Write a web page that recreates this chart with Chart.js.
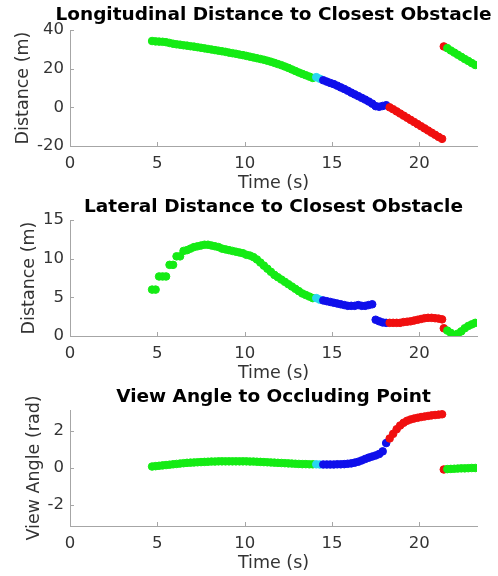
<!DOCTYPE html>
<html lang="en">
<head>
  <meta charset="UTF-8" />
  <title>Closest Obstacle</title>
  <script src="https://cdn.jsdelivr.net/npm/chart.js"></script>
  <style>
    body {
      margin: 0;
      padding: 0;
      background-color: #fff;
      width: 498px;
      height: 576px;
      position: relative;
      overflow: hidden;
    }

    canvas {
      position: absolute;
      left: 0;
    }
  </style>
</head>
<body>
  <canvas id="lonChart" width="498" height="192" style="top:0px"></canvas>
  <canvas id="latChart" width="498" height="192" style="top:190px"></canvas>
  <canvas id="angChart" width="498" height="192" style="top:380px"></canvas>

  <script>
    // sample times (s)
    const time = [
      4.7, 4.9, 5.1, 5.3, 5.5, 5.7, 5.9, 6.1, 6.3, 6.5,
      6.7, 6.9, 7.1, 7.3, 7.5, 7.7, 7.9, 8.1, 8.3, 8.5,
      8.7, 8.9, 9.1, 9.3, 9.5, 9.7, 9.9, 10.1, 10.3, 10.5,
      10.7, 10.9, 11.1, 11.3, 11.5, 11.7, 11.9, 12.1, 12.3, 12.5,
      12.7, 12.9, 13.1, 13.3, 13.5, 13.7, 13.9, 14.1, 14.3, 14.5,
      14.7, 14.9, 15.1, 15.3, 15.5, 15.7, 15.9, 16.1, 16.3, 16.5,
      16.7, 16.9, 17.1, 17.3, 17.5, 17.7, 17.9, 18.1, 18.3, 18.5,
      18.7, 18.9, 19.1, 19.3, 19.5, 19.7, 19.9, 20.1, 20.3, 20.5,
      20.7, 20.9, 21.1, 21.3, 21.4, 21.6, 21.8, 22.0, 22.2, 22.4,
      22.6, 22.8, 23.0, 23.2
    ];

    // state of each sample: g = green, c = cyan, b = blue, r = red
    const state = [
      'g','g','g','g','g','g','g','g','g','g',
      'g','g','g','g','g','g','g','g','g','g',
      'g','g','g','g','g','g','g','g','g','g',
      'g','g','g','g','g','g','g','g','g','g',
      'g','g','g','g','g','g','g','c','c','b',
      'b','b','b','b','b','b','b','b','b','b',
      'b','b','b','b','b','b','b','b','r','r',
      'r','r','r','r','r','r','r','r','r','r',
      'r','r','r','r','r','g','g','g','g','g',
      'g','g','g','g'
    ];

    const longitudinal = [
      34.3, 34.1, 34.0, 33.9, 33.7, 33.3, 32.9, 32.6, 32.4, 32.1,
      31.9, 31.6, 31.4, 31.1, 30.8, 30.5, 30.2, 29.9, 29.6, 29.3,
      29.0, 28.7, 28.3, 28.0, 27.7, 27.3, 27.0, 26.6, 26.2, 25.8,
      25.4, 25.0, 24.6, 24.1, 23.6, 23.0, 22.4, 21.8, 21.1, 20.4,
      19.6, 18.8, 18.0, 17.3, 16.6, 15.9, 15.2, 15.6, 14.8, 14.0,
      13.3, 12.6, 12.0, 11.2, 10.3, 9.5, 8.6, 7.6, 6.7, 5.8,
      4.9, 4.0, 3.0, 1.9, 0.6, 0.3, 0.7, 1.1, 0.0, -1.0,
      -2.1, -3.2, -4.3, -5.4, -6.5, -7.6, -8.7, -9.8, -10.9, -12.0,
      -13.1, -14.2, -15.3, -16.3, 31.5, 30.6, 29.4, 28.3, 27.2, 26.1,
      25.0, 24.0, 22.9, 21.9
    ];

    const lateral = [
      6.0, 6.0, 7.7, 7.7, 7.7, 9.2, 9.2, 10.3, 10.3, 11.0,
      11.1, 11.3, 11.5, 11.6, 11.7, 11.8, 11.8, 11.7, 11.6, 11.5,
      11.3, 11.2, 11.1, 11.0, 10.9, 10.8, 10.7, 10.5, 10.4, 10.2,
      9.9, 9.5, 9.1, 8.7, 8.3, 7.9, 7.6, 7.3, 7.0, 6.7,
      6.4, 6.1, 5.8, 5.5, 5.3, 5.1, 4.9, 4.9, 4.7, 4.6,
      4.5, 4.4, 4.3, 4.2, 4.1, 4.0, 3.9, 3.9, 3.9, 4.0,
      3.9, 3.9, 4.0, 4.1, 2.1, 1.9, 1.75, 1.7, 1.7, 1.7,
      1.7, 1.7, 1.8, 1.85, 1.9, 2.0, 2.1, 2.2, 2.3, 2.35,
      2.35, 2.3, 2.25, 2.15, 1.0, 0.7, 0.4, 0.1, 0.3, 0.6,
      1.0, 1.3, 1.5, 1.7
    ];

    const viewAngle = [
      0.08, 0.10, 0.12, 0.14, 0.16, 0.18, 0.20, 0.22, 0.24, 0.26,
      0.28, 0.29, 0.30, 0.31, 0.32, 0.33, 0.34, 0.35, 0.35, 0.36,
      0.36, 0.36, 0.36, 0.36, 0.36, 0.36, 0.36, 0.36, 0.35, 0.35,
      0.34, 0.33, 0.32, 0.31, 0.30, 0.29, 0.28, 0.27, 0.26, 0.25,
      0.24, 0.23, 0.22, 0.21, 0.21, 0.20, 0.20, 0.20, 0.19, 0.19,
      0.19, 0.19, 0.19, 0.20, 0.20, 0.21, 0.23, 0.25, 0.29, 0.34,
      0.41, 0.49, 0.56, 0.62, 0.68, 0.76, 0.90, 1.35, 1.6, 1.85,
      2.1, 2.3, 2.45, 2.56, 2.63, 2.68, 2.72, 2.76, 2.79, 2.82,
      2.85, 2.87, 2.89, 2.91, -0.08, -0.06, -0.05, -0.04, -0.03, -0.02,
      -0.02, -0.01, 0.0, 0.0
    ];

    const xTicks = [0, 5, 10, 15, 20];
    const lonTicks = [-20, 0, 20, 40];
    const latTicks = [0, 5, 10, 15];
    const angTicks = [-2, 0, 2];

    const stateColors = {
      g: 'rgb(20,235,20)',
      c: 'rgb(40,215,240)',
      b: 'rgb(15,15,235)',
      r: 'rgb(240,15,15)'
    };

    const axisColor = '#a6a6a6';
    const textColor = '#333333';

    // MATLAB style title and inward tick marks
    const matlabLook = {
      id: 'matlabLook',
      afterDraw(chart, args, opts) {
        const ctx = chart.ctx;
        const area = chart.chartArea;
        ctx.save();
        ctx.strokeStyle = axisColor;
        ctx.lineWidth = 1;
        const xs = chart.scales.x, ys = chart.scales.y;
        xs.ticks.forEach(t => {
          const px = Math.round(xs.getPixelForValue(t.value)) + 0.5;
          ctx.beginPath();
          ctx.moveTo(px, area.bottom);
          ctx.lineTo(px, area.bottom - 4);
          ctx.stroke();
        });
        ys.ticks.forEach(t => {
          const py = Math.round(ys.getPixelForValue(t.value)) + 0.5;
          ctx.beginPath();
          ctx.moveTo(area.left, py);
          ctx.lineTo(area.left + 4, py);
          ctx.stroke();
        });
        ctx.fillStyle = '#000';
        ctx.font = 'bold 18.5px "DejaVu Sans"';
        ctx.textAlign = 'center';
        ctx.textBaseline = 'middle';
        ctx.fillText(opts.text, (area.left + area.right) / 2, opts.y);
        ctx.restore();
      }
    };

    function makeChart(id, values, yMin, yMax, yTicks, title, yLabel, titleY, yPad) {
      const ctx = document.getElementById(id).getContext('2d');
      return new Chart(ctx, {
        type: 'scatter',
        data: {
          datasets: [{
            data: time.map((t, i) => ({ x: t, y: values[i] })),
            pointRadius: 3.8,
            pointBorderWidth: 1,
            pointBackgroundColor: state.map(s => stateColors[s]),
            pointBorderColor: state.map(s => stateColors[s]),
            showLine: false
          }]
        },
        options: {
          responsive: false,
          animation: false,
          layout: { padding: { top: 30, right: 21, left: 0, bottom: 0 } },
          plugins: {
            legend: { display: false },
            tooltip: { enabled: false },
            matlabLook: { text: title, y: titleY }
          },
          scales: {
            x: {
              type: 'linear',
              min: 0,
              max: 23.3,
              afterFit: s => { s.height = 46; },
              afterBuildTicks: s => { s.ticks = xTicks.map(v => ({ value: v })); },
              grid: { display: true, drawOnChartArea: false, drawTicks: false },
              border: { display: true, color: axisColor, width: 1 },
              ticks: {
                color: textColor,
                padding: 8,
                maxRotation: 0,
                font: { family: 'DejaVu Sans', size: 16.5 }
              },
              title: {
                display: true,
                text: 'Time (s)',
                color: textColor,
                padding: { top: 0, bottom: -2 },
                font: { family: 'DejaVu Sans', size: 17.5 }
              }
            },
            y: {
              min: yMin,
              max: yMax,
              afterFit: s => { s.width = 70; },
              afterBuildTicks: s => { s.ticks = yTicks.map(v => ({ value: v })); },
              grid: { display: true, drawOnChartArea: false, drawTicks: false },
              border: { display: true, color: axisColor, width: 1 },
              ticks: {
                color: textColor,
                padding: 6,
                font: { family: 'DejaVu Sans', size: 16.5 }
              },
              title: {
                display: true,
                text: yLabel,
                color: textColor,
                padding: { top: yPad, bottom: 0 },
                font: { family: 'DejaVu Sans', size: 17.5 }
              }
            }
          }
        },
        plugins: [matlabLook]
      });
    }

    makeChart('lonChart', longitudinal, -20, 40, lonTicks,
      'Longitudinal Distance to Closest Obstacle', 'Distance (m)', 15, 13);
    makeChart('latChart', lateral, 0, 15, latTicks,
      'Lateral Distance to Closest Obstacle', 'Distance (m)', 17, 19);
    makeChart('angChart', viewAngle, -Math.PI, Math.PI, angTicks,
      'View Angle to Occluding Point', 'View Angle (rad)', 17, 24);
  </script>
</body>
</html>
